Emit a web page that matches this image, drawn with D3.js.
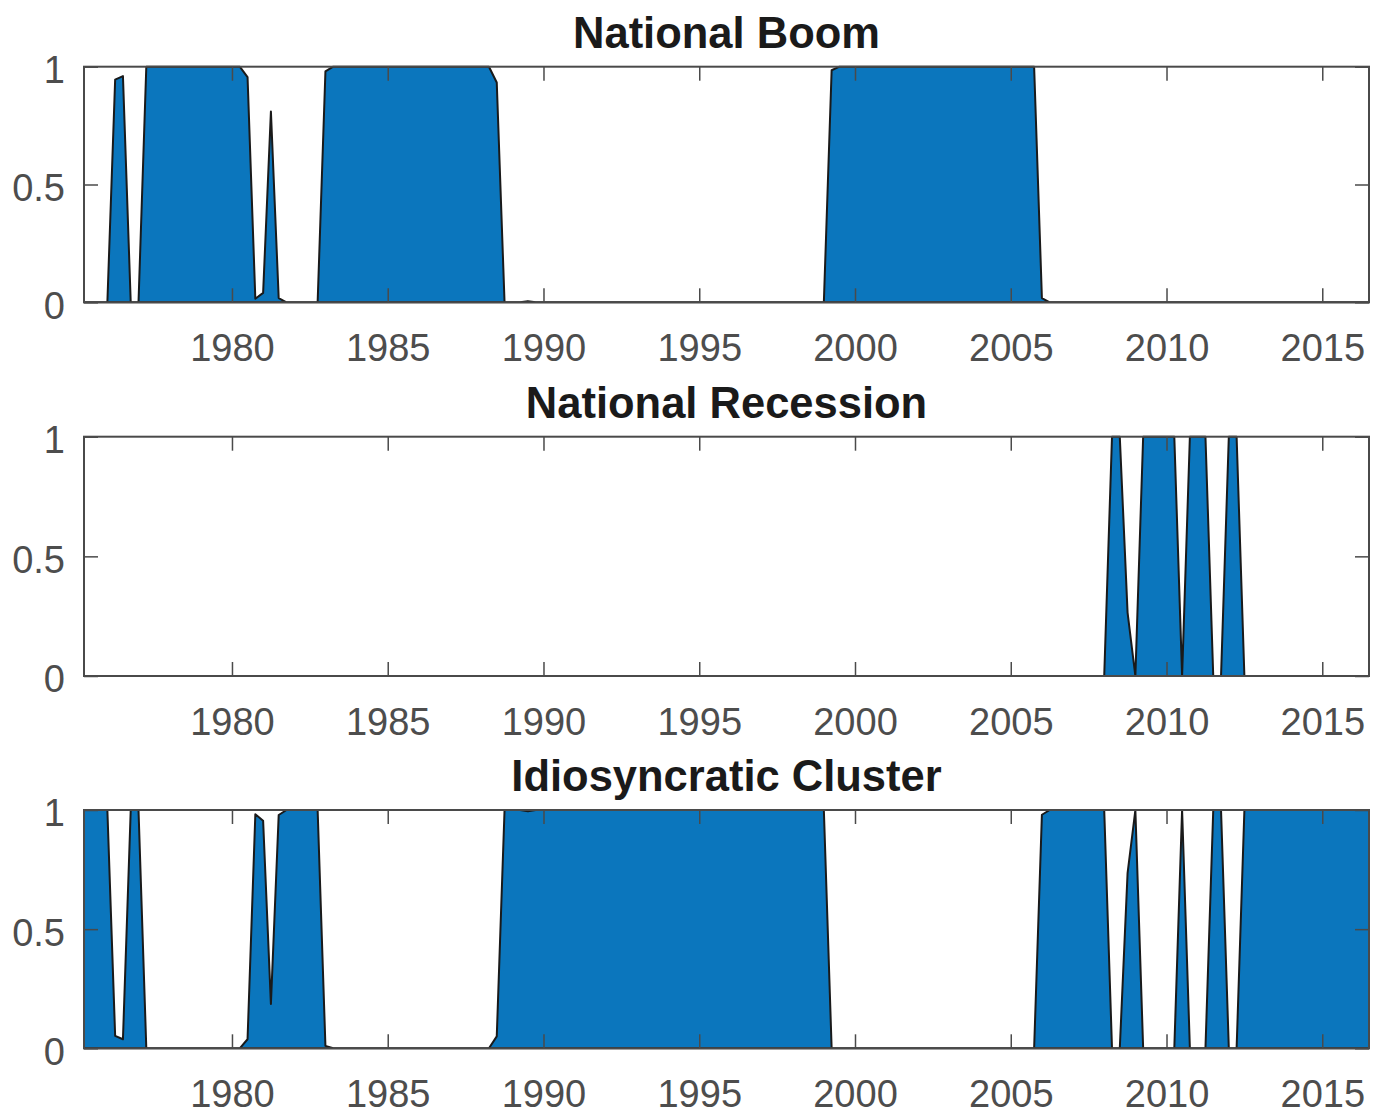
<!DOCTYPE html>
<head>
    <meta charset="utf-8">
    <style>
        body { margin: 0; background: #fff; }
        svg { font-family: "Liberation Sans", Arial, Helvetica, sans-serif; }
        .tick line { stroke: #4a4a4a; stroke-width: 1.5; }
        .tick text { fill: #4d4d4d; font-size: 38px; }
        .axis path { display: none; }
        .frame { fill: none; stroke: #4a4a4a; stroke-width: 2; }
        .area { fill: #0b76bd; stroke: #1a1a1a; stroke-width: 2; stroke-linejoin: round; }
        .title { font-size: 43.5px; font-weight: bold; fill: #1a1a1a; text-anchor: middle; }
    </style>
</head>
<body>
    <script src="https://d3js.org/d3.v7.min.js"></script>
    <script>
        // quarterly probabilities, 1975Q2 .. 2016Q3 (one row per year)
        var startYear = 1975.25, step = 0.25;

        var boomValues = [
            0, 0, 0,                    // 1975
            0, 0.945, 0.96, 0,          // 1976
            0, 1, 1, 1,                 // 1977
            1, 1, 1, 1,                 // 1978
            1, 1, 1, 1,                 // 1979
            1, 1, 0.956, 0.015,         // 1980
            0.04, 0.81, 0.018, 0,       // 1981
            0, 0, 0, 0,                 // 1982
            0.98, 1, 1, 1,              // 1983
            1, 1, 1, 1,                 // 1984
            1, 1, 1, 1,                 // 1985
            1, 1, 1, 1,                 // 1986
            1, 1, 1, 1,                 // 1987
            1, 1, 0.933, 0,             // 1988
            0, 0, 0.005, 0,             // 1989
            0, 0, 0, 0,                 // 1990
            0, 0, 0, 0,                 // 1991
            0, 0, 0, 0,                 // 1992
            0, 0, 0, 0,                 // 1993
            0, 0, 0, 0,                 // 1994
            0, 0, 0, 0,                 // 1995
            0, 0, 0, 0,                 // 1996
            0, 0, 0, 0,                 // 1997
            0, 0, 0, 0,                 // 1998
            0, 0.985, 1, 1,             // 1999
            1, 1, 1, 1,                 // 2000
            1, 1, 1, 1,                 // 2001
            1, 1, 1, 1,                 // 2002
            1, 1, 1, 1,                 // 2003
            1, 1, 1, 1,                 // 2004
            1, 1, 1, 1,                 // 2005
            0.018, 0, 0, 0,             // 2006
            0, 0, 0, 0,                 // 2007
            0, 0, 0, 0,                 // 2008
            0, 0, 0, 0,                 // 2009
            0, 0, 0, 0,                 // 2010
            0, 0, 0, 0,                 // 2011
            0, 0, 0, 0,                 // 2012
            0, 0, 0, 0,                 // 2013
            0, 0, 0, 0,                 // 2014
            0, 0, 0, 0,                 // 2015
            0, 0, 0                     // 2016
        ];

        var recessionValues = [
            0, 0, 0,                    // 1975
            0, 0, 0, 0,                 // 1976
            0, 0, 0, 0,                 // 1977
            0, 0, 0, 0,                 // 1978
            0, 0, 0, 0,                 // 1979
            0, 0, 0, 0,                 // 1980
            0, 0, 0, 0,                 // 1981
            0, 0, 0, 0,                 // 1982
            0, 0, 0, 0,                 // 1983
            0, 0, 0, 0,                 // 1984
            0, 0, 0, 0,                 // 1985
            0, 0, 0, 0,                 // 1986
            0, 0, 0, 0,                 // 1987
            0, 0, 0, 0,                 // 1988
            0, 0, 0, 0,                 // 1989
            0, 0, 0, 0,                 // 1990
            0, 0, 0, 0,                 // 1991
            0, 0, 0, 0,                 // 1992
            0, 0, 0, 0,                 // 1993
            0, 0, 0, 0,                 // 1994
            0, 0, 0, 0,                 // 1995
            0, 0, 0, 0,                 // 1996
            0, 0, 0, 0,                 // 1997
            0, 0, 0, 0,                 // 1998
            0, 0, 0, 0,                 // 1999
            0, 0, 0, 0,                 // 2000
            0, 0, 0, 0,                 // 2001
            0, 0, 0, 0,                 // 2002
            0, 0, 0, 0,                 // 2003
            0, 0, 0, 0,                 // 2004
            0, 0, 0, 0,                 // 2005
            0, 0, 0, 0,                 // 2006
            0, 0, 0, 0,                 // 2007
            0, 1, 1, 0.265,             // 2008
            0, 1, 1, 1,                 // 2009
            1, 1, 0, 1,                 // 2010
            1, 1, 0, 0,                 // 2011
            1, 1, 0, 0,                 // 2012
            0, 0, 0, 0,                 // 2013
            0, 0, 0, 0,                 // 2014
            0, 0, 0, 0,                 // 2015
            0, 0, 0                     // 2016
        ];

        var clusterValues = [
            1, 1, 1,                    // 1975
            1, 0.052, 0.038, 1,         // 1976
            1, 0, 0, 0,                 // 1977
            0, 0, 0, 0,                 // 1978
            0, 0, 0, 0,                 // 1979
            0, 0, 0.038, 0.982,         // 1980
            0.955, 0.186, 0.979, 1,     // 1981
            1, 1, 1, 1,                 // 1982
            0.01, 0, 0, 0,              // 1983
            0, 0, 0, 0,                 // 1984
            0, 0, 0, 0,                 // 1985
            0, 0, 0, 0,                 // 1986
            0, 0, 0, 0,                 // 1987
            0, 0, 0.05, 1,              // 1988
            1, 1, 0.995, 1,             // 1989
            1, 1, 1, 1,                 // 1990
            1, 1, 1, 1,                 // 1991
            1, 1, 1, 1,                 // 1992
            1, 1, 1, 1,                 // 1993
            1, 1, 1, 1,                 // 1994
            1, 1, 1, 1,                 // 1995
            1, 1, 1, 1,                 // 1996
            1, 1, 1, 1,                 // 1997
            1, 1, 1, 1,                 // 1998
            1, 0, 0, 0,                 // 1999
            0, 0, 0, 0,                 // 2000
            0, 0, 0, 0,                 // 2001
            0, 0, 0, 0,                 // 2002
            0, 0, 0, 0,                 // 2003
            0, 0, 0, 0,                 // 2004
            0, 0, 0, 0,                 // 2005
            0.98, 1, 1, 1,              // 2006
            1, 1, 1, 1,                 // 2007
            1, 0, 0, 0.735,             // 2008
            1, 0, 0, 0,                 // 2009
            0, 0, 1, 0,                 // 2010
            0, 0, 1, 1,                 // 2011
            0, 0, 1, 1,                 // 2012
            1, 1, 1, 1,                 // 2013
            1, 1, 1, 1,                 // 2014
            1, 1, 1, 1,                 // 2015
            1, 1, 1                     // 2016
        ];

        var titles = ["National Boom", "National Recession", "Idiosyncratic Cluster"];
        var xTicks = [1980, 1985, 1990, 1995, 2000, 2005, 2010, 2015];
        var yTicks = [0, 0.5, 1];

        var panels = [
            { title: titles[0], values: boomValues, top: 66.7, bottom: 302.3 },
            { title: titles[1], values: recessionValues, top: 436.7, bottom: 676 },
            { title: titles[2], values: clusterValues, top: 810, bottom: 1048.3 }
        ];

        var left = 84, right = 1369, tickLen = 14;

        var svg = d3.select("body").append("svg")
            .attr("width", 1386)
            .attr("height", 1117);

        var x = d3.scaleLinear()
            .domain([1975.25, 2016.5])
            .range([left, right]);

        panels.forEach(function (p) {
            var y = d3.scaleLinear()
                .domain([0, 1])
                .range([p.bottom, p.top]);

            var data = p.values.map(function (v, i) {
                return { t: startYear + i * step, v: v };
            });

            var g = svg.append("g");

            var area = d3.area()
                .x(function (d) { return x(d.t); })
                .y0(y(0))
                .y1(function (d) { return y(d.v); });

            g.append("path")
                .datum(data)
                .attr("class", "area")
                .attr("d", area);

            // bottom axis with labels, ticks pointing inward
            g.append("g")
                .attr("class", "axis")
                .attr("transform", "translate(0," + p.bottom + ")")
                .call(d3.axisBottom(x).tickValues(xTicks).tickSize(-tickLen).tickPadding(32)
                    .tickFormat(function (d) { return d; }));

            g.append("g")
                .attr("class", "axis")
                .attr("transform", "translate(0," + p.top + ")")
                .call(d3.axisTop(x).tickValues(xTicks).tickSize(-tickLen).tickFormat(""));

            g.append("g")
                .attr("class", "axis")
                .attr("transform", "translate(" + left + ",0)")
                .call(d3.axisLeft(y).tickValues(yTicks).tickSize(-tickLen).tickPadding(19)
                    .tickFormat(function (d) { return d; }))
                .selectAll("text").attr("dy", "0.42em");

            g.append("g")
                .attr("class", "axis")
                .attr("transform", "translate(" + right + ",0)")
                .call(d3.axisRight(y).tickValues(yTicks).tickSize(-tickLen).tickFormat(""));

            g.append("rect")
                .attr("class", "frame")
                .attr("x", left)
                .attr("y", p.top)
                .attr("width", right - left)
                .attr("height", p.bottom - p.top);

            g.append("text")
                .attr("class", "title")
                .attr("x", (left + right) / 2)
                .attr("y", p.top - 19)
                .text(p.title);
        });
    </script>
</body>
</html>
